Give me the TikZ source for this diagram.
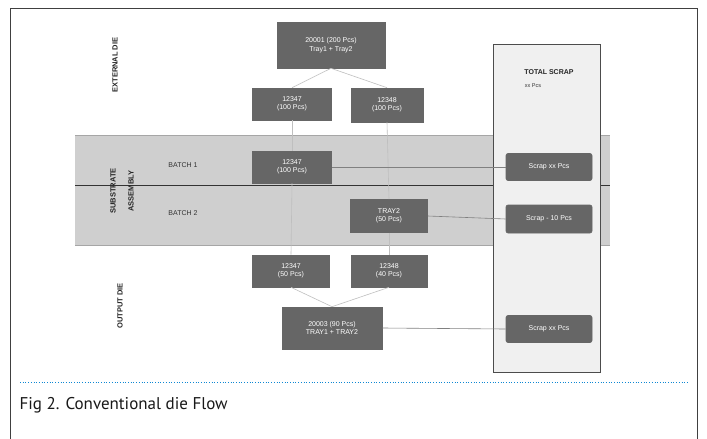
\documentclass[tikz,border=0pt]{standalone}
\usepackage{fontspec}
\setmainfont{Liberation Sans}
\newfontfamily\capfont{PT Sans}
\begin{document}
\begin{tikzpicture}[x=1pt,y=-1pt,
  diebox/.style={draw=gray!80!black, fill=black!60, text=white, align=center,
    font=\fontsize{7}{8.5}\selectfont, inner sep=1pt, line width=0.6pt},
  scrapbox/.style={diebox, rounded corners=2pt},
  flow/.style={draw=black!25, line width=0.6pt},
  feed/.style={draw=black!50, line width=0.6pt},
  sidelabel/.style={font=\fontsize{7.5}{8.5}\selectfont\bfseries, text=black!85}]
\useasboundingbox (0,0) rectangle (707,439);
\fill[white] (0,0) rectangle (707,439);
% outer frame
\draw[black!75, line width=0.8pt] (10,445) -- (10,8) -- (697,8) -- (697,445);

% process band with its two batches
\fill[black!19] (75,135) rectangle (610,245);
\draw[black!35, line width=0.6pt] (75,135) -- (610,135);
\draw[black!35, line width=0.6pt] (75,245) -- (610,245);
\draw[black!80, line width=0.9pt] (75,185) -- (610,185);

% scrap collection panel
\node[draw=black!70, fill=black!6, line width=0.9pt, minimum width=107pt,
  minimum height=328pt, inner sep=0pt] (panel) at (546.5,208) {};
\node[font=\fontsize{7}{8}\selectfont\bfseries, text=black!85] (total) at (549,72) {TOTAL SCRAP};
\node[font=\fontsize{5.5}{6}\selectfont, text=black!80] (totalpcs) at (533,86) {xx Pcs};

% side labels
\node[sidelabel, rotate=90] (ext) at (115,65) {EXTERNAL DIE};
\node[sidelabel, rotate=90] (sub1) at (113,191) {SUBSTRATE};
\node[sidelabel, rotate=90] (sub2) at (131,191) {ASSEMBLY};
\node[sidelabel, rotate=90] (out) at (120,306) {OUTPUT DIE};
\node[font=\fontsize{7}{8}\selectfont, text=black!80] (batch1) at (183,165) {BATCH 1};
\node[font=\fontsize{7}{8}\selectfont, text=black!80] (batch2) at (183,213) {BATCH 2};

% die lots
\node[diebox, minimum width=108pt, minimum height=46pt] (top) at (331,45) {20001 (200 Pcs)\\Tray1 + Tray2};
\node[diebox, minimum width=79pt, minimum height=32pt] (r2l) at (292,104) {12347\\(100 Pcs)};
\node[diebox, minimum width=72pt, minimum height=34pt] (r2r) at (387,105) {12348\\(100 Pcs)};
\node[diebox, minimum width=79pt, minimum height=32pt] (b1) at (292,167) {12347\\(100 Pcs)};
\node[diebox, minimum width=77pt, minimum height=33pt] (b2) at (389,216) {TRAY2\\(50 Pcs)};
\node[diebox, minimum width=77pt, minimum height=32pt] (botl) at (291,271) {12347\\(50 Pcs)};
\node[diebox, minimum width=76pt, minimum height=32pt] (botr) at (389,271) {12348\\(40 Pcs)};
\node[diebox, minimum width=100pt, minimum height=42pt] (bot) at (332,328) {20003 (90 Pcs)\\TRAY1 + TRAY2};

% scrap lots
\node[scrapbox, minimum width=86pt, minimum height=27pt] (s1) at (549,167) {Scrap xx Pcs};
\node[scrapbox, minimum width=86pt, minimum height=28pt] (s2) at (549,219) {Scrap - 10 Pcs};
\node[scrapbox, minimum width=86pt, minimum height=27pt] (s3) at (549,329) {Scrap xx Pcs};

% flow of the lots
\draw[flow] (top.south) -- (r2l.north);
\draw[flow] (top.south) -- (r2r.north);
\draw[flow] (r2l.south) -- (b1.north);
\draw[flow] (b1.south) -- (botl.north);
\draw[flow] (r2r.south) -- (b2.north);
\draw[flow] (b2.south) -- (botr.north);
\draw[flow] (botl.south) -- (bot.north);
\draw[flow] (botr.south) -- (bot.north);
\draw[feed] (b1.east) -- (s1.west);
\draw[feed] (b2.east) -- (s2.west);
\draw[feed] (bot.east) -- (s3.west);

% caption
\draw[cyan!70!blue, line width=0.7pt, dotted] (20,382) -- (688,382);
\node[anchor=west, font=\capfont\fontsize{17}{19}\selectfont, text=black!90] (cap) at (16,405) {Fig 2. Conventional die Flow};
\end{tikzpicture}
\end{document}
